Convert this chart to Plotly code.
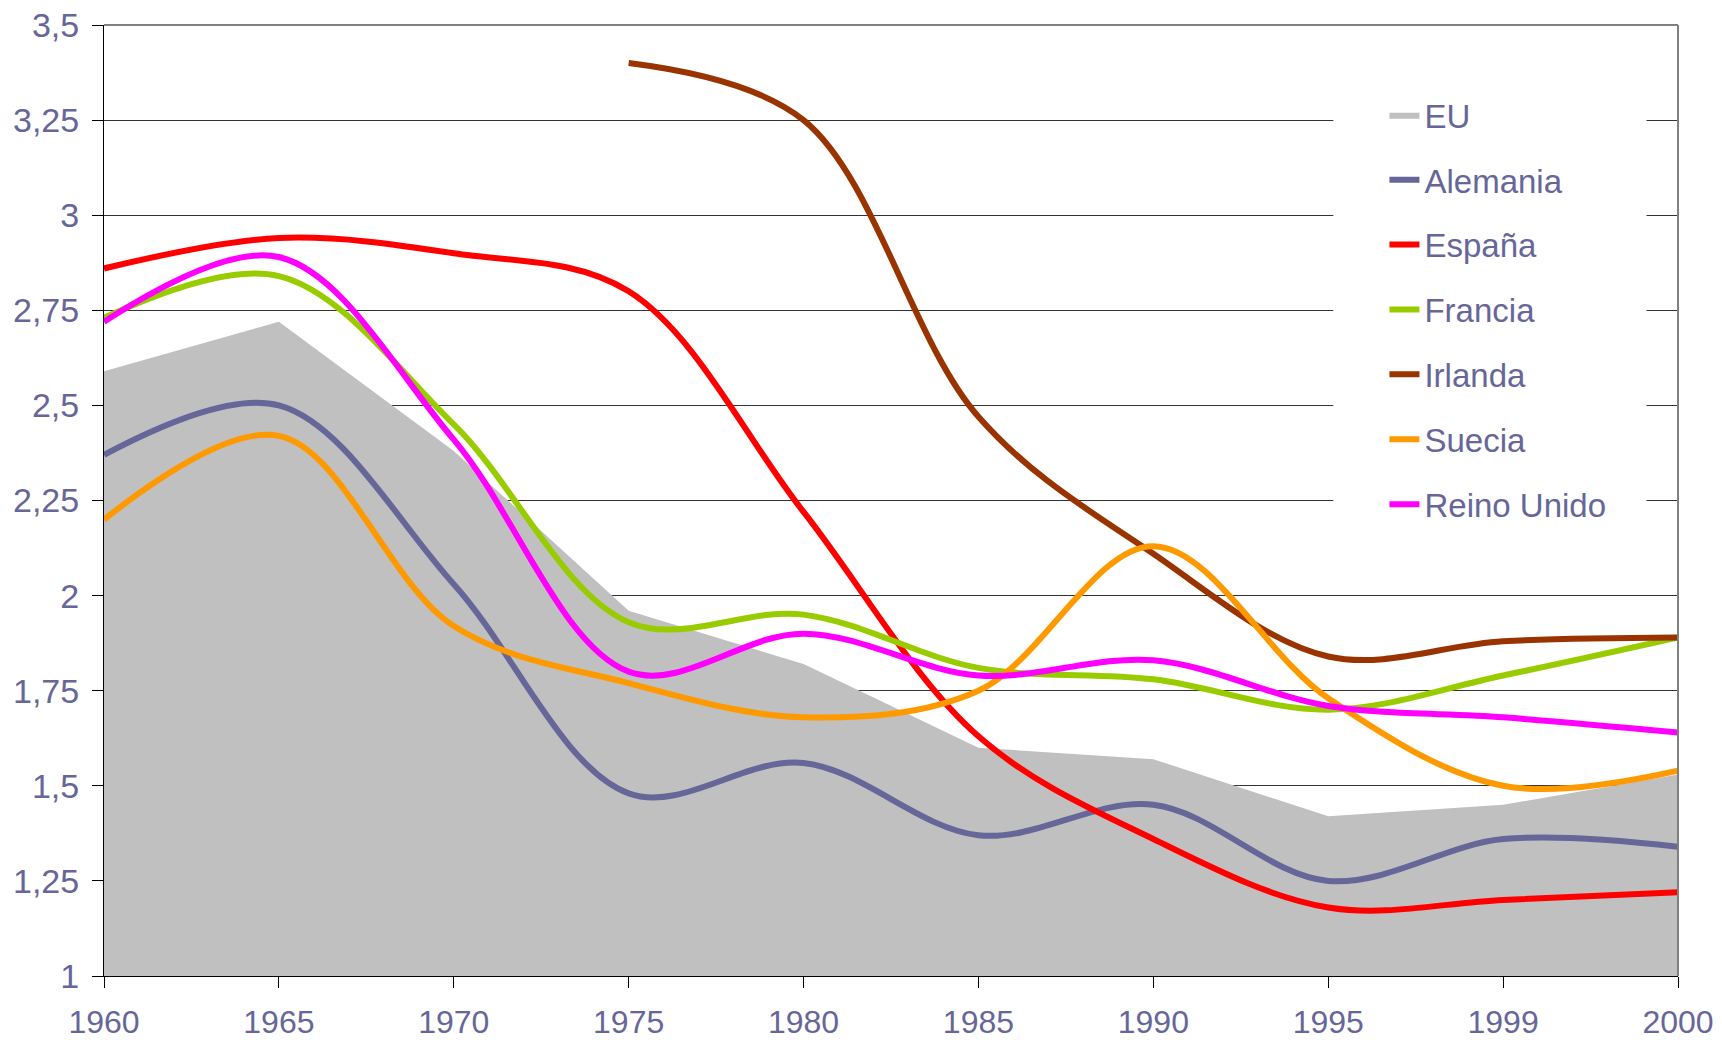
import plotly.graph_objects as go

years = ["1960", "1965", "1970", "1975", "1980", "1985", "1990", "1995", "1999", "2000"]

eu          = [2.59, 2.72, 2.38, 1.96, 1.82, 1.60, 1.57, 1.42, 1.45, 1.53]
alemania    = [2.37, 2.50, 2.03, 1.48, 1.56, 1.37, 1.45, 1.25, 1.36, 1.34]
espana      = [2.86, 2.94, 2.90, 2.80, 2.22, 1.63, 1.36, 1.18, 1.20, 1.22]
francia     = [2.73, 2.84, 2.45, 1.93, 1.95, 1.81, 1.78, 1.70, 1.79, 1.89]
irlanda     = [None, None, None, 3.40, 3.25, 2.47, 2.11, 1.84, 1.88, 1.89]
suecia      = [2.20, 2.42, 1.92, 1.77, 1.68, 1.75, 2.13, 1.73, 1.50, 1.54]
reino_unido = [2.72, 2.89, 2.41, 1.80, 1.90, 1.79, 1.83, 1.71, 1.68, 1.64]

y_tickvals = [1, 1.25, 1.5, 1.75, 2, 2.25, 2.5, 2.75, 3, 3.25, 3.5]
y_ticktext = ["1", "1,25", "1,5", "1,75", "2", "2,25", "2,5", "2,75", "3", "3,25", "3,5"]

series = [
    ("Alemania", alemania, "#666699"),
    ("España", espana, "#FF0000"),
    ("Francia", francia, "#99CC00"),
    ("Irlanda", irlanda, "#993300"),
    ("Suecia", suecia, "#FF9900"),
    ("Reino Unido", reino_unido, "#FF00FF"),
]

TXT = "#666699"
FONT = "Arial, Liberation Sans, sans-serif"

fig = go.Figure()
fig.add_trace(go.Scatter(
    x=years, y=eu, name="EU", mode="lines", fill="tozeroy",
    fillcolor="#C0C0C0", line=dict(width=0, color="#C0C0C0"),
    legendgroup="EU",
))
for name, vals, col in series:
    fig.add_trace(go.Scatter(
        x=years, y=vals, name=name, mode="lines",
        line=dict(color=col, width=6, shape="spline", smoothing=1),
        connectgaps=False, legendgroup=name,
    ))

fig.update_layout(
    width=1722, height=1040,
    margin=dict(l=104, r=44, t=25, b=64),
    paper_bgcolor="white", plot_bgcolor="white",
    font=dict(family=FONT, color=TXT, size=32),
    showlegend=True,
    legend=dict(
        x=0.8135, y=0.935, xanchor="left", yanchor="top",
        bgcolor="white", borderwidth=0,
        font=dict(family=FONT, size=33, color=TXT),
        tracegroupgap=19,
    ),
    xaxis=dict(
        type="category", range=[0, 9], showgrid=False,
        showline=True, linecolor="black", linewidth=1,
        ticks="outside", ticklen=11, tickcolor="black",
        tickfont=dict(family=FONT, size=32, color=TXT),
        ticklabelstandoff=7, ticklabeloverflow="allow",
        automargin=False, zeroline=False,
    ),
    yaxis=dict(
        range=[1, 3.5], tickvals=y_tickvals, ticktext=y_ticktext,
        showgrid=True, gridcolor="#333333", gridwidth=1,
        showline=True, linecolor="black", linewidth=1,
        ticks="outside", ticklen=11, tickcolor="black",
        tickfont=dict(family=FONT, size=34, color=TXT),
        ticklabelstandoff=6, ticklabeloverflow="allow",
        automargin=False, zeroline=False,
    ),
    shapes=[
        dict(type="rect", xref="paper", yref="paper", x0=0.781, x1=0.98, y0=0.47, y1=0.95,
             fillcolor="white", line=dict(width=0), layer="above"),
        dict(type="line", xref="paper", yref="paper", x0=0, x1=1, y0=1, y1=1,
             line=dict(color="#808080", width=2), layer="above"),
        dict(type="line", xref="paper", yref="paper", x0=1, x1=1, y0=0, y1=1,
             line=dict(color="#808080", width=2), layer="above"),
    ],
)

fig.write_html(
    "out.html",
    config={"displayModeBar": False},
    post_script="document.body.style.margin='0';document.body.style.overflow='hidden';",
)
